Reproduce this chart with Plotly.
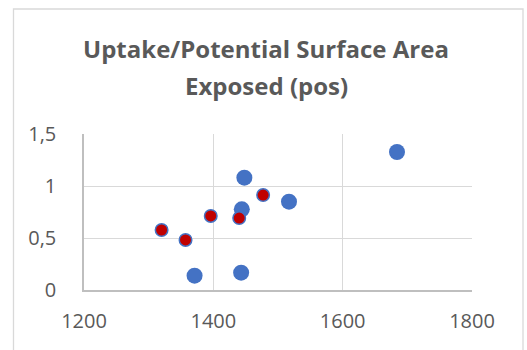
import plotly.graph_objects as go

title_lines = ["Uptake/Potential Surface Area", "Exposed (pos)"]

blue_x = [1448, 1444, 1517, 1371, 1443, 1684]
blue_y = [1.08, 0.776, 0.849, 0.138, 0.167, 1.327]

red_x = [1320, 1357, 1396, 1440, 1477]
red_y = [0.577, 0.481, 0.712, 0.692, 0.913]

x_ticks = [1200, 1400, 1600, 1800]
x_labels = ["1200", "1400", "1600", "1800"]
y_ticks = [0, 0.5, 1, 1.5]
y_labels = ["0", "0,5", "1", "1,5"]

W, H = 527, 350
ml, mr, mt, mb = 84, 55, 134, 60
pw, ph = W - ml - mr, H - mt - mb

fig = go.Figure()
fig.add_trace(go.Scatter(x=blue_x, y=blue_y, mode="markers",
                         marker=dict(color="#4472C4", size=16, line=dict(width=0)),
                         showlegend=False, cliponaxis=False))
fig.add_trace(go.Scatter(x=red_x, y=red_y, mode="markers",
                         marker=dict(color="#C00000", size=12.5,
                                     line=dict(color="#4472C4", width=1.5)),
                         showlegend=False, cliponaxis=False))

font_fam = "Open Sans"
gray = "#595959"
grid = "#D9D9D9"
axis = "#BFBFBF"

fig.update_layout(
    width=W, height=H,
    margin=dict(l=ml, r=mr, t=mt, b=mb, pad=0),
    paper_bgcolor="white", plot_bgcolor="white",
    font=dict(family=font_fam, color=gray),
    xaxis=dict(range=[1200, 1800], tickvals=x_ticks, ticktext=x_labels,
               showgrid=True, gridcolor=grid, gridwidth=1.3,
               zeroline=False, showline=True, linecolor=axis, linewidth=1.5,
               mirror=False, ticks="", tickfont=dict(size=20, color=gray),
               ticklabelstandoff=12, fixedrange=True),
    yaxis=dict(range=[0, 1.5], tickvals=y_ticks, ticktext=y_labels,
               showgrid=True, gridcolor=grid, gridwidth=1.3,
               zeroline=False, showline=True, linecolor=axis, linewidth=1.5,
               ticks="", tickfont=dict(size=20, color=gray),
               ticklabelstandoff=22, fixedrange=True),
)

# chart border
fig.add_shape(type="rect", xref="paper", yref="paper",
              x0=(13.5 - ml) / pw, x1=(523 - ml) / pw,
              y0=(H - mb - 360) / ph, y1=(H - mb - 9) / ph,
              line=dict(color=grid, width=1.3), fillcolor="rgba(0,0,0,0)", layer="below")

# title lines
for i, (txt, yc) in enumerate(zip(title_lines, [48, 85])):
    fig.add_annotation(text="<b>" + txt + "</b>", xref="paper", yref="paper",
                       x=(266 - ml) / pw, y=(H - mb - yc) / ph,
                       xanchor="center", yanchor="middle", showarrow=False,
                       font=dict(size=24, color=gray, family=font_fam))

fig.write_html("out.html")
